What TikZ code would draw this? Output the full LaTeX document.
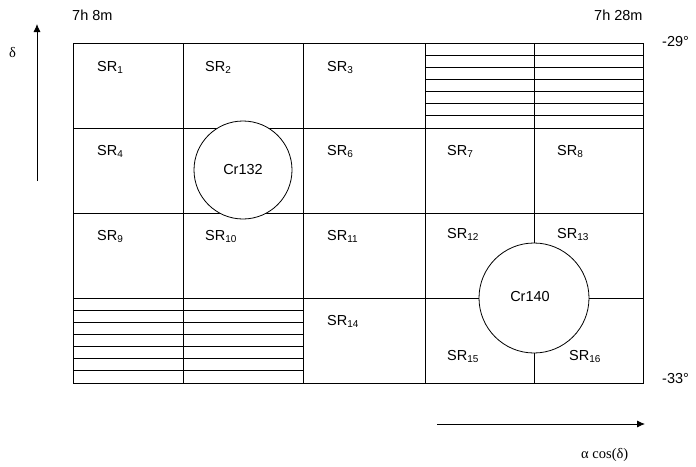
\documentclass[tikz,border=0pt]{standalone}
\usepackage{fontspec}
\setmainfont{Liberation Sans}
\newfontfamily\timesfont{Liberation Serif}
\usepackage{tikz}
\usetikzlibrary{arrows.meta}
\newcommand{\SR}[1]{SR\raisebox{-2.6pt}{\fontsize{10}{10}\selectfont #1}}

\tikzset{
  gridline/.style={draw=black,line width=0.8pt},
  lbl/.style={font=\fontsize{14.5}{17}\selectfont,inner sep=0pt,anchor=base west},
  grk/.style={font=\timesfont\fontsize{14.5}{17}\selectfont,inner sep=0pt,anchor=base west},
  crater/.style={circle,draw=black,line width=0.8pt,fill=white,inner sep=0pt,
    font=\fontsize{14.5}{17}\selectfont},
  axis/.style={line width=0.8pt,-{Latex[length=8pt,width=7pt]}}
}

\begin{document}
\begin{tikzpicture}[x=1pt,y=-1pt]
  \useasboundingbox (0,0) rectangle (696,466);
  % field grid
  \draw[gridline] (73,43) rectangle (643,383);
  \foreach \y in {128,213,298} \draw[gridline] (73,\y) -- (643,\y);
  \foreach \x in {183,303,425,534} \draw[gridline] (\x,43) -- (\x,383);
  % hatched (not observed) regions
  \foreach \k in {1,...,6} {
    \draw[gridline] (425,{43+\k*85/7}) -- (643,{43+\k*85/7});
    \draw[gridline] (73,{298+\k*85/7}) -- (303,{298+\k*85/7});
  }
  % craters
  \node[crater,minimum size=98pt] (cr132) at (243,170) {Cr132};
  \node[crater,minimum size=110pt] (cr140) at (534,298) {\hspace*{-8pt}\raisebox{4pt}{Cr140}};
  % subregion labels
  \node[lbl] (sr1) at (97,71) {\SR{1}};
  \node[lbl] (sr2) at (205,71) {\SR{2}};
  \node[lbl] (sr3) at (327,71) {\SR{3}};
  \node[lbl] (sr4) at (97,155) {\SR{4}};
  \node[lbl] (sr6) at (327,155) {\SR{6}};
  \node[lbl] (sr7) at (447,155) {\SR{7}};
  \node[lbl] (sr8) at (557,155) {\SR{8}};
  \node[lbl] (sr9) at (97,240) {\SR{9}};
  \node[lbl] (sr10) at (205,240) {\SR{10}};
  \node[lbl] (sr11) at (327,240) {\SR{11}};
  \node[lbl] (sr12) at (447,238) {\SR{12}};
  \node[lbl] (sr13) at (557,238) {\SR{13}};
  \node[lbl] (sr14) at (327,325) {\SR{14}};
  \node[lbl] (sr15) at (447,360) {\SR{15}};
  \node[lbl] (sr16) at (569,360) {\SR{16}};
  % coordinate labels
  \node[lbl] (ra0) at (72,20) {7h 8m};
  \node[lbl] (ra1) at (594,20) {7h 28m};
  \node[lbl] (de0) at (662,46) {-29°};
  \node[lbl] (de1) at (662,383) {-33°};
  % axes
  \coordinate (ybot) at (37,181);
  \coordinate (ytop) at (37,24);
  \draw[axis] (ybot) -- (ytop);
  \node[grk] (dlbl) at (9,57) {δ};
  \coordinate (xlft) at (437,424);
  \coordinate (xrgt) at (645,424);
  \draw[axis] (xlft) -- (xrgt);
  \node[grk] (albl) at (581,458) {α cos(δ)};
\end{tikzpicture}
\end{document}
